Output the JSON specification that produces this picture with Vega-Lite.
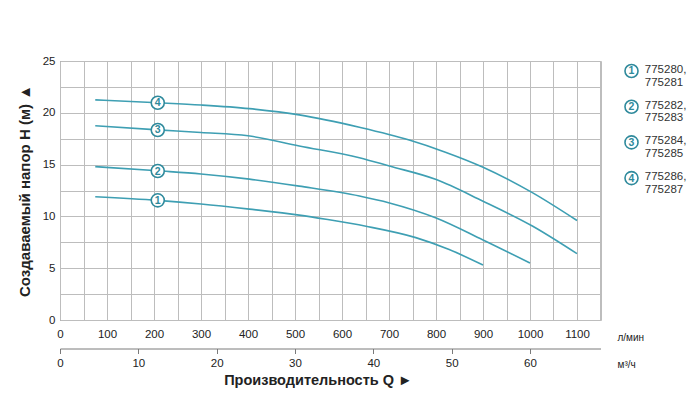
{
  "$schema": "https://vega.github.io/schema/vega-lite/v6.json",
  "padding": {"left": 16, "top": 54, "right": 0, "bottom": 0},
  "config": {"font": "Liberation Sans", "view": {"stroke": null}},
  "bounds": "flush",
  "spacing": 30.5,
  "datasets": {
    "curves": [
      {"s": 1, "q": 75, "h": 11.9}, {"s": 1, "q": 208, "h": 11.55}, {"s": 1, "q": 300, "h": 11.2}, {"s": 1, "q": 403, "h": 10.7}, {"s": 1, "q": 509, "h": 10.12}, {"s": 1, "q": 566, "h": 9.72}, {"s": 1, "q": 651, "h": 9.05}, {"s": 1, "q": 757, "h": 7.95}, {"s": 1, "q": 828, "h": 6.8}, {"s": 1, "q": 900, "h": 5.3},
      {"s": 2, "q": 75, "h": 14.8}, {"s": 2, "q": 208, "h": 14.4}, {"s": 2, "q": 300, "h": 14.1}, {"s": 2, "q": 403, "h": 13.6}, {"s": 2, "q": 509, "h": 12.92}, {"s": 2, "q": 637, "h": 11.97}, {"s": 2, "q": 701, "h": 11.3}, {"s": 2, "q": 799, "h": 9.87}, {"s": 2, "q": 899, "h": 7.75}, {"s": 2, "q": 1000, "h": 5.5},
      {"s": 3, "q": 75, "h": 18.75}, {"s": 3, "q": 208, "h": 18.35}, {"s": 3, "q": 300, "h": 18.1}, {"s": 3, "q": 400, "h": 17.78}, {"s": 3, "q": 509, "h": 16.8}, {"s": 3, "q": 637, "h": 15.67}, {"s": 3, "q": 701, "h": 14.86}, {"s": 3, "q": 799, "h": 13.58}, {"s": 3, "q": 899, "h": 11.49}, {"s": 3, "q": 1005, "h": 9.07}, {"s": 3, "q": 1100, "h": 6.4},
      {"s": 4, "q": 75, "h": 21.25}, {"s": 4, "q": 208, "h": 20.97}, {"s": 4, "q": 300, "h": 20.75}, {"s": 4, "q": 403, "h": 20.4}, {"s": 4, "q": 509, "h": 19.8}, {"s": 4, "q": 637, "h": 18.6}, {"s": 4, "q": 743, "h": 17.37}, {"s": 4, "q": 820, "h": 16.2}, {"s": 4, "q": 899, "h": 14.77}, {"s": 4, "q": 1005, "h": 12.29}, {"s": 4, "q": 1100, "h": 9.6}
    ],
    "marks": [
      {"s": 1, "q": 208, "h": 11.55},
      {"s": 2, "q": 208, "h": 14.38},
      {"s": 3, "q": 208, "h": 18.34},
      {"s": 4, "q": 208, "h": 20.97}
    ],
    "legend": [
      {"s": 1, "t": "775280,\n775281"},
      {"s": 2, "t": "775282,\n775283"},
      {"s": 3, "t": "775284,\n775285"},
      {"s": 4, "t": "775286,\n775287"}
    ]
  },
  "hconcat": [
    {
      "width": 540.5,
      "height": 259,
      "view": {"stroke": "#7a7a7a", "strokeWidth": 1},
      "title": {"text": "Производительность Q ►", "orient": "bottom", "anchor": "middle", "frame": "group", "fontSize": 14.5, "fontWeight": "bold", "color": "#222", "offset": 4, "dx": -12},
      "resolve": {"scale": {"x": "independent"}, "axis": {"x": "independent"}},
      "layer": [
        {
          "encoding": {
            "x": {"field": "q", "type": "quantitative", "scale": {"domain": [0, 1150], "nice": false, "zero": false},
              "axis": {"values": [0,50,100,150,200,250,300,350,400,450,500,550,600,650,700,750,800,850,900,950,1000,1050,1100,1150],
                "labelExpr": "datum.value % 100 === 0 ? '' + datum.value : ''", "ticks": false, "domain": false, "grid": true, "gridColor": "#bdbdbd", "gridWidth": 1,
                "labelFontSize": 11.5, "labelColor": "#222", "labelPadding": 8, "labelFlush": false, "labelOverlap": false, "labelBound": false,
                "title": "л/мин", "titleX": 557, "titleY": 17, "titleAlign": "left", "titleBaseline": "middle", "titleFontSize": 10, "titleFontWeight": "normal", "titleColor": "#222"}},
            "y": {"field": "h", "type": "quantitative", "scale": {"domain": [0, 25], "nice": false, "zero": false},
              "axis": {"values": [0,2.5,5,7.5,10,12.5,15,17.5,20,22.5,25],
                "labelExpr": "datum.value % 5 === 0 ? '' + datum.value : ''", "ticks": false, "domain": false, "grid": true, "gridColor": "#bdbdbd", "gridWidth": 1,
                "labelFontSize": 11.5, "labelColor": "#222", "labelPadding": 5, "labelFlush": false, "labelOverlap": false,
                "title": "Создаваемый напор H (м) ▲", "titleFontSize": 15, "titleFontWeight": "bold", "titleColor": "#222", "titlePadding": 10}}
          },
          "layer": [
            {"data": {"name": "curves"}, "mark": {"type": "line", "interpolate": "monotone", "color": "#3e9fb3", "strokeWidth": 1.6},
              "encoding": {"detail": {"field": "s", "type": "nominal"}}},
            {"data": {"name": "marks"}, "mark": {"type": "point", "shape": "circle", "size": 170, "filled": true, "fill": "white", "stroke": "#2f8a9c", "strokeWidth": 1.6, "opacity": 1}},
            {"data": {"name": "marks"}, "mark": {"type": "text", "fontSize": 10.5, "fontWeight": "bold", "color": "#2f8a9c", "align": "center", "baseline": "middle", "dy": 0.5},
              "encoding": {"text": {"field": "s", "type": "nominal"}}}
          ]
        },
        {
          "data": {"values": [{}]},
          "mark": {"type": "rule", "opacity": 0},
          "encoding": {
            "x": {"datum": 0, "type": "quantitative", "scale": {"domain": [0, 69], "nice": false, "zero": false},
              "axis": {"orient": "bottom", "offset": 28.5, "values": [0,10,20,30,40,50,60], "grid": false, "domain": true, "domainColor": "#7a7a7a", "tickColor": "#7a7a7a", "tickSize": 5,
                "labelFontSize": 11.5, "labelColor": "#222", "labelPadding": 4, "labelFlush": false, "labelOverlap": false, "labelBound": false,
                "title": "м³/ч", "titleX": 557, "titleY": 16, "titleAlign": "left", "titleBaseline": "middle", "titleFontSize": 10, "titleFontWeight": "normal", "titleColor": "#222"}}
          }
        }
      ]
    },
    {
      "width": 13.3,
      "height": 127.1,
      "data": {"name": "legend"},
      "encoding": {
        "y": {"field": "s", "type": "ordinal", "scale": {"type": "point", "padding": 0.28}, "axis": null}
      },
      "layer": [
        {"mark": {"type": "point", "shape": "circle", "size": 170, "filled": true, "fill": "white", "stroke": "#2f8a9c", "strokeWidth": 1.6, "opacity": 1},
          "encoding": {"x": {"datum": "sym", "type": "nominal", "scale": {"type": "point", "domain": ["sym", "txt"], "padding": 0}, "axis": null}}},
        {"mark": {"type": "text", "fontSize": 10.5, "fontWeight": "bold", "color": "#2f8a9c", "align": "center", "baseline": "middle", "dy": 0.5},
          "encoding": {"x": {"datum": "sym", "type": "nominal", "scale": {"type": "point", "domain": ["sym", "txt"], "padding": 0}, "axis": null}, "text": {"field": "s", "type": "nominal"}}},
        {"mark": {"type": "text", "fontSize": 11.5, "color": "#333", "align": "left", "baseline": "top", "lineBreak": "\n", "lineHeight": 12.7, "dy": -7},
          "encoding": {"x": {"datum": "txt", "type": "nominal", "scale": {"type": "point", "domain": ["sym", "txt"], "padding": 0}, "axis": null}, "text": {"field": "t", "type": "nominal"}}}
      ]
    }
  ]
}
